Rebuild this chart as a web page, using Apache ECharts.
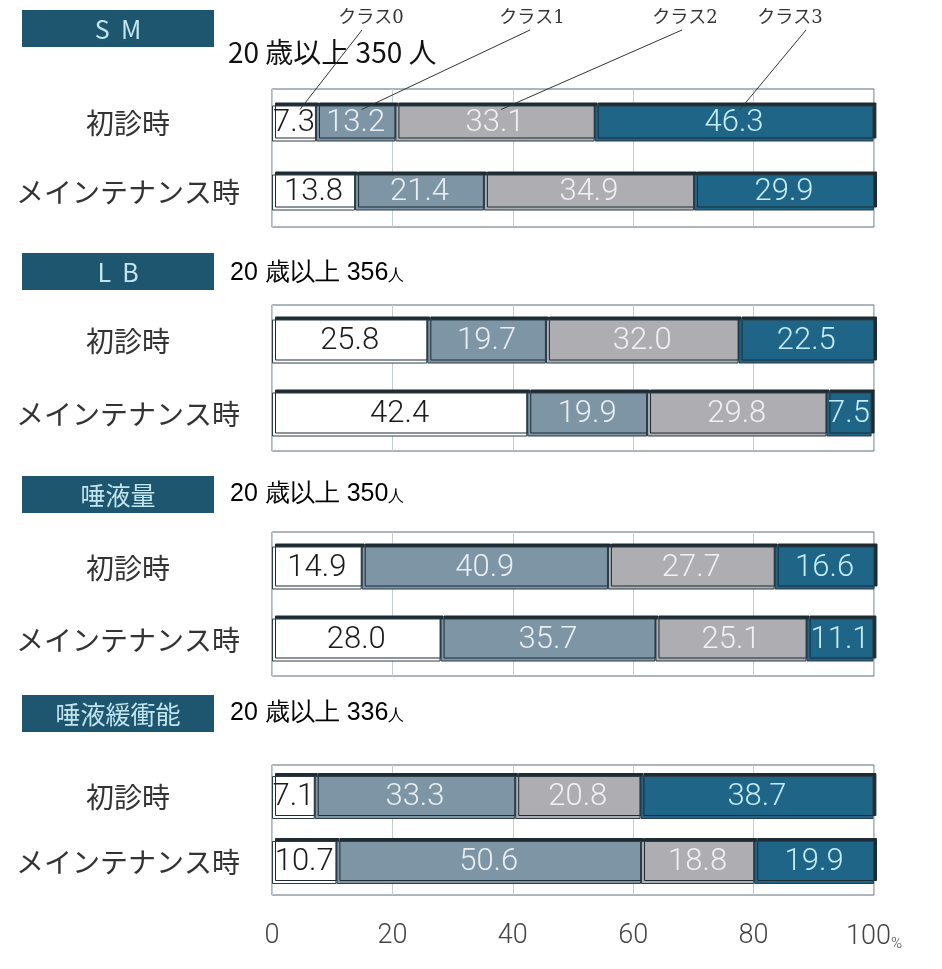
<!DOCTYPE html>
<html>
<head>
<meta charset="utf-8">
<script src="https://cdn.jsdelivr.net/npm/echarts@6/dist/echarts.min.js"></script>
<style>
  html, body { margin: 0; padding: 0; background: #fff; }
  #app { width: 942px; height: 969px; }
</style>
</head>
<body>
<div id="app"></div>
<script>
// 区分 / カテゴリ
var groups = ['S  M', 'L  B', '唾液量', '唾液緩衝能'];
var counts = [350, 356, 350, 336];
var categories = ['初診時', 'メインテナンス時'];
var classNames = ['クラス0', 'クラス1', 'クラス2', 'クラス3'];
var xTicks = [0, 20, 40, 60, 80, 100];

// 各グループ [初診時, メインテナンス時]
var class0 = [[7.3, 13.8], [25.8, 42.4], [14.9, 28.0], [7.1, 10.7]];
var class1 = [[13.2, 21.4], [19.7, 19.9], [40.9, 35.7], [33.3, 50.6]];
var class2 = [[33.1, 34.9], [32.0, 29.8], [27.7, 25.1], [20.8, 18.8]];
var class3 = [[46.3, 29.9], [22.5, 7.5], [16.6, 11.1], [38.7, 19.9]];

var classData = [class0, class1, class2, class3];
var colors = ['#ffffff', '#7d95a5', '#adadb2', '#1f6587'];
var labelColors = ['#1a1a1a', '#e9eef1', '#eff0f2', '#c4ecf4'];

// レイアウト
var gridTops = [89, 305, 532, 765];
var gridHeights = [138, 146, 144, 130];
var barWidths = [36, 44, 43, 43];
var headerY = [10, 253, 476, 695];
var subY = [52, 273, 494, 713];

var myChart = echarts.init(document.getElementById('app'));

var grids = [], xAxes = [], yAxes = [], series = [];
for (var g = 0; g < groups.length; g++) {
    grids.push({
        left: 272, width: 602, top: gridTops[g], height: gridHeights[g],
        show: true, borderColor: '#5d6d77', borderWidth: 1, backgroundColor: '#fff'
    });
    xAxes.push({
        gridIndex: g, type: 'value', min: 0, max: 100, interval: 20,
        axisLine: { show: false }, axisTick: { show: false },
        splitLine: { show: true, lineStyle: { color: '#c3ccd1', width: 1 } },
        axisLabel: {
            show: g === groups.length - 1,
            margin: 28, fontSize: 27, color: '#444', fontFamily: 'Roboto', fontWeight: 300,
            formatter: function (v) { return v === 100 ? '100{p|%}' : String(v); },
            rich: { p: { fontSize: 15, color: '#444', verticalAlign: 'bottom', padding: [14, 0, 0, 0] } }
        }
    });
    yAxes.push({
        gridIndex: g, type: 'category', data: categories, inverse: true,
        axisLine: { show: false }, axisTick: { show: false },
        axisLabel: {
            margin: 144, align: 'center', fontSize: 28, color: '#333',
            fontFamily: 'Noto Sans CJK JP'
        }
    });
    for (var c = 0; c < 4; c++) {
        series.push({
            type: 'bar', stack: 'g' + g, xAxisIndex: g, yAxisIndex: g,
            barWidth: barWidths[g],
            data: classData[c][g],
            itemStyle: {
                color: colors[c], borderColor: '#2c3d47', borderWidth: 1,
                shadowColor: '#1d2b33', shadowOffsetY: -3, shadowOffsetX: 3, shadowBlur: 0
            },
            label: {
                show: true, position: 'inside', fontSize: 31, color: labelColors[c],
                fontFamily: 'Roboto', fontWeight: 300,
                formatter: function (p) { return p.value.toFixed(1); }
            },
            emphasis: { disabled: true },
            animation: false
        });
    }
}

var graphics = [];
for (var g = 0; g < groups.length; g++) {
    graphics.push({
        type: 'rect', left: 22, top: headerY[g],
        shape: { width: 192, height: 37 },
        style: { fill: '#1e5670' }
    });
    graphics.push({
        type: 'text', x: 118, y: headerY[g] + 19,
        style: {
            text: groups[g], fill: '#c2e6ee', fontSize: 25,
            fontFamily: 'Noto Sans CJK JP', align: 'center', verticalAlign: 'middle'
        }
    });
    if (g === 0) {
        graphics.push({
            type: 'text', x: 228, y: subY[g],
            style: {
                text: '20 歳以上 ' + counts[g] + ' 人', fill: '#111', fontSize: 28,
                fontFamily: '"Liberation Sans Narrow", "Noto Sans CJK JP"', verticalAlign: 'middle'
            }
        });
    } else {
        graphics.push({
            type: 'text', x: 230, y: subY[g],
            style: {
                text: '{a|20 歳以上 ' + counts[g] + '}{b|人}',
                fontFamily: 'Noto Sans CJK JP', verticalAlign: 'middle',
                rich: {
                    a: { fontSize: 25, color: '#333' },
                    b: { fontSize: 16, color: '#333', padding: [6, 0, 0, 0] }
                }
            }
        });
    }
}

// クラス見出し
var classLabelX = [371, 532, 685, 790];
var lineStartX = [362, 530, 682, 806];
for (var c = 0; c < 4; c++) {
    graphics.push({
        type: 'text', x: classLabelX[c], y: 18,
        style: {
            text: classNames[c], fill: '#333', fontSize: 18,
            fontFamily: '"DejaVu Serif", "Noto Sans CJK JP"', align: 'center', verticalAlign: 'middle'
        }
    });
}

myChart.setOption({
    backgroundColor: '#fff',
    animation: false,
    grid: grids,
    xAxis: xAxes,
    yAxis: yAxes,
    series: series,
    graphic: graphics
});

// 引き出し線（SM 初診時の各区分の中央へ）
var acc = 0, lines = [];
for (var c = 0; c < 4; c++) {
    var v = classData[c][0][0];
    var mid = acc + v / 2;
    acc += v;
    var pt = myChart.convertToPixel({ gridIndex: 0 }, [mid, categories[0]]);
    lines.push({
        type: 'line', z: 100,
        shape: { x1: lineStartX[c], y1: 30, x2: pt[0] + 6, y2: pt[1] - barWidths[0] / 2 + 4 },
        style: { stroke: '#333', lineWidth: 1 }
    });
}
myChart.setOption({ graphic: graphics.concat(lines) });
</script>
</body>
</html>
